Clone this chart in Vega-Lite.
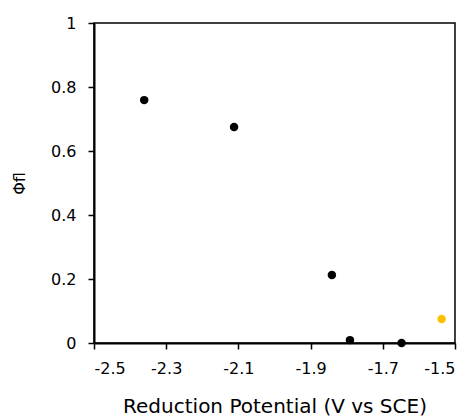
{
  "$schema": "https://vega.github.io/schema/vega-lite/v6.json",
  "autosize": {"type": "none"},
  "padding": {"left": 94, "top": 23, "right": 19, "bottom": 73},
  "width": 361,
  "height": 320,
  "background": "white",
  "config": {
    "view": {"stroke": "#000", "strokeWidth": 1.5},
    "font": "DejaVu Sans",
    "axis": {
      "grid": false,
      "domainColor": "#000",
      "domainWidth": 2,
      "tickColor": "#000",
      "tickWidth": 1.5,
      "tickSize": 6,
      "labelFont": "DejaVu Sans",
      "labelFontSize": 16,
      "labelColor": "#000",
      "titleFont": "DejaVu Sans",
      "titleFontWeight": "normal",
      "titleColor": "#000"
    }
  },
  "data": {
    "values": [
      {"potential": -2.361, "phi": 0.759, "group": "a"},
      {"potential": -2.112, "phi": 0.675, "group": "a"},
      {"potential": -1.841, "phi": 0.2125, "group": "a"},
      {"potential": -1.791, "phi": 0.009, "group": "a"},
      {"potential": -1.648, "phi": 0.0, "group": "a"},
      {"potential": -1.537, "phi": 0.075, "group": "b"}
    ]
  },
  "mark": {"type": "point", "filled": true, "shape": "circle", "size": 72, "opacity": 1},
  "encoding": {
    "x": {
      "field": "potential",
      "type": "quantitative",
      "title": "Reduction Potential (V vs SCE)",
      "scale": {"domain": [-2.5, -1.5], "nice": false, "zero": false},
      "axis": {"values": [-2.5, -2.3, -2.1, -1.9, -1.7, -1.5], "labelExpr": "replace(format(datum.value, '.1f'), '\u2212', '-')", "labelPadding": 11, "titleFontSize": 20, "titlePadding": 20}
    },
    "y": {
      "field": "phi",
      "type": "quantitative",
      "title": "Φfl",
      "scale": {"domain": [0, 1], "nice": false},
      "axis": {"values": [0, 0.2, 0.4, 0.6, 0.8, 1], "format": "~g", "labelPadding": 12, "titleFontSize": 16, "titlePadding": 23}
    },
    "color": {
      "field": "group",
      "type": "nominal",
      "scale": {"domain": ["a", "b"], "range": ["#000000", "#FFC000"]},
      "legend": null
    }
  }
}
